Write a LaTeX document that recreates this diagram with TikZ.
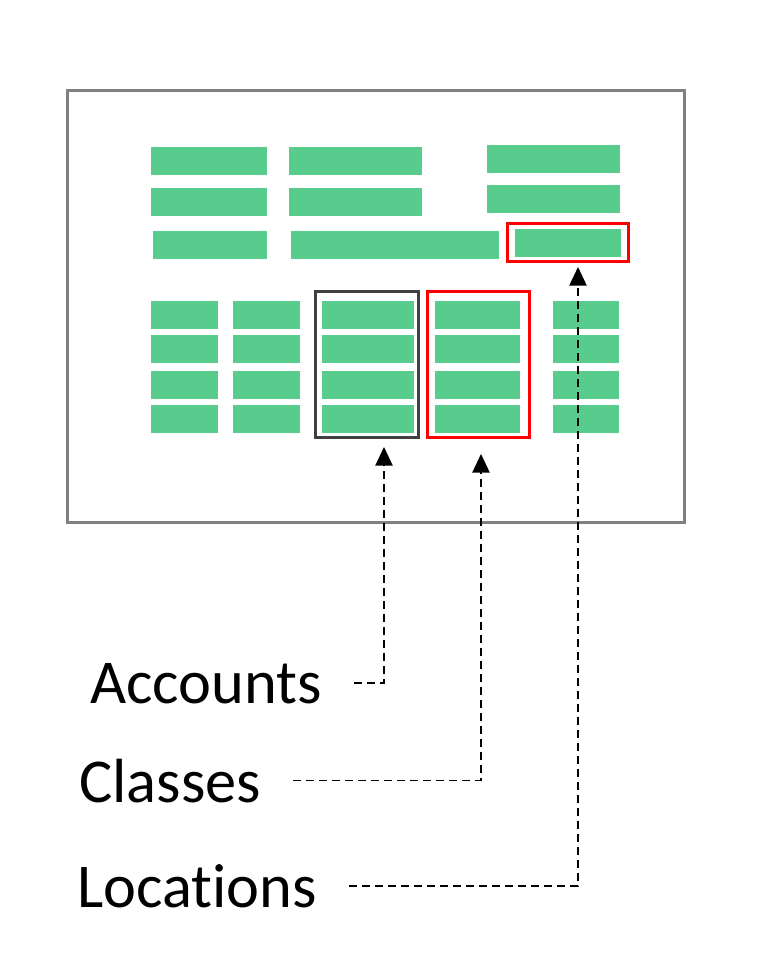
\documentclass[tikz,border=0pt]{standalone}
\usepackage{fontspec}
\setmainfont[Ligatures=NoCommon]{Carlito}
\usetikzlibrary{arrows.meta,positioning}
\definecolor{barGreen}{RGB}{88,204,141}
\definecolor{boxRed}{RGB}{255,0,0}
\definecolor{boxDark}{RGB}{64,64,64}
\definecolor{frameGray}{RGB}{128,128,128}

\begin{document}
\begin{tikzpicture}[x=0.75pt,y=-0.75pt,
        bar/.style={fill=barGreen},
        pick/.style={draw=#1,line width=2.25pt,inner sep=0pt},
        lbl/.style={anchor=base west,inner sep=0pt,font=\fontsize{46.8}{56}\selectfont},
        conn/.style={line width=1.1pt,dash pattern=on 6pt off 3.75pt,shorten <=24pt,
            -{Triangle[length=14pt,width=13pt]}}]
        \useasboundingbox (0,0) rectangle (770,954);
        % sheet
        \draw[frameGray,line width=2.25pt] (67,90) rectangle (684,522);
        % header fields
        \foreach \xa/\xb/\ya in {151/267/147,289/422/147,487/620/145,
                151/267/188,289/422/188,487/620/185,
                153/267/231,291/499/231,515/621/229}
            \fill[bar] (\xa,\ya) rectangle (\xb,\ya+28);
        % line grid
        \foreach \ya in {301,335,371,405}
            \foreach \xa/\xb in {151/218,233/300,322/414,435/520,553/619}
                \fill[bar] (\xa,\ya) rectangle (\xb,\ya+28);
        % marked fields
        \node[pick=boxDark,minimum width=77.25pt,minimum height=109.5pt] (accbox) at (366.5,364) {};
        \node[pick=boxRed,minimum width=76.5pt,minimum height=109.5pt] (clsbox) at (478,364) {};
        \node[pick=boxRed,minimum width=90.75pt,minimum height=28.5pt] (locbox) at (567.5,242) {};
        % labels
        \path
        +(90,703) node[lbl] (acc) {Accounts}
        +(79,802) node[lbl] (cls) {Classes}
        +(77,907) node[lbl] (loc) {Locations};
        \coordinate (acctip) at (384,447);
        \coordinate (clstip) at (481,454);
        \coordinate (loctip) at (578,267);
        \draw[conn] (acc.east) -| (acctip);
        \draw[conn] (cls.east) -| (clstip);
        \draw[conn] (loc.east) -| (loctip);
    \end{tikzpicture}
\end{document}
